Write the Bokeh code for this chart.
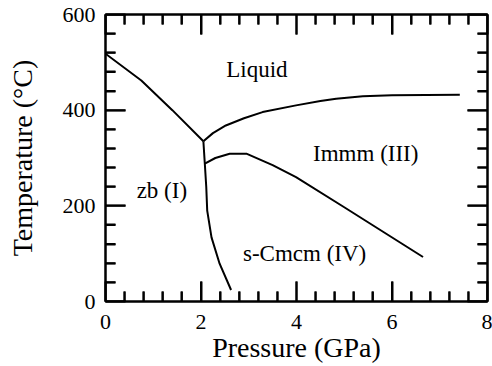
from bokeh.plotting import figure
from bokeh.models import FixedTicker, LinearAxis, Range1d
from bokeh.core.properties import value
from bokeh.embed import file_html
from bokeh.resources import INLINE

# Phase boundaries (Pressure GPa, Temperature C)
melt_p = [0.0, 0.75, 1.4, 2.05]
melt_t = [518, 462, 400, 335]

liq_p = [2.05, 2.25, 2.52, 2.9, 3.29, 3.99, 4.5, 4.83, 5.39, 6.0, 7.42]
liq_t = [335, 352, 368, 383, 396, 410, 419, 424, 429, 431, 432]

cmcm_p = [2.08, 2.3, 2.6, 2.95, 3.5, 3.99, 5.0, 6.65]
cmcm_t = [288, 300, 309, 309, 285, 260, 197, 93]

zb_p = [2.05, 2.08, 2.11, 2.13, 2.22, 2.39, 2.63]
zb_t = [335, 288, 240, 190, 134, 79, 24]

# Region labels
label_text = ["Liquid", "Immm (III)", "zb (I)", "s-Cmcm (IV)"]
label_p = [3.17, 5.45, 1.18, 4.17]
label_t = [486, 309, 232, 100]

x_major = [0, 2, 4, 6, 8]
x_minor = [round(i * 0.4, 2) for i in range(21) if i % 5 != 0]
y_major = [0, 200, 400, 600]
y_minor = [i * 40 for i in range(16) if i % 5 != 0]

X_MIN, X_MAX = 0, 8
Y_MIN, Y_MAX = 0, 600

FONT = "Liberation Serif"

W, H = 492, 366
BL, BR, BT, BB = 105, 5, 14, 65
FRAME_W = W - BL - BR
FRAME_H = H - BT - BB

p = figure(width=W, height=H, output_backend="svg", toolbar_location=None,
           x_range=Range1d(X_MIN, X_MAX), y_range=Range1d(Y_MIN, Y_MAX),
           min_border_left=BL, min_border_right=BR, min_border_top=BT, min_border_bottom=BB)
p.xgrid.visible = False
p.ygrid.visible = False
p.outline_line_color = "black"
p.outline_line_width = 2
p.background_fill_color = "white"
p.border_fill_color = "white"

xt = FixedTicker(ticks=x_major, minor_ticks=x_minor)
yt = FixedTicker(ticks=y_major, minor_ticks=y_minor)

def style(ax, ticker, show_labels):
    ax.ticker = ticker
    ax.axis_line_color = "black"
    ax.axis_line_width = 2
    ax.major_tick_line_color = "black"
    ax.minor_tick_line_color = "black"
    ax.major_tick_line_width = 2
    ax.minor_tick_line_width = 2
    ax.major_tick_in = 20
    ax.major_tick_out = 0
    ax.minor_tick_in = 10
    ax.minor_tick_out = 0
    ax.major_label_text_font = FONT
    ax.major_label_text_color = "black"
    if show_labels:
        ax.major_label_text_font_size = "22px"
    else:
        ax.major_label_overrides = {t: "" for t in ticker.ticks}
        ax.major_label_text_font_size = "1px"
        ax.major_label_standoff = 0

style(p.xaxis[0], xt, True)
style(p.yaxis[0], yt, True)
p.xaxis[0].axis_label = "Pressure (GPa)"
p.yaxis[0].axis_label = "Temperature (°C)"
for ax in (p.xaxis[0], p.yaxis[0]):
    ax.axis_label_text_font = FONT
    ax.axis_label_text_font_size = "28px"
    ax.axis_label_text_font_style = "normal"
    ax.axis_label_text_color = "black"
p.xaxis[0].major_label_standoff = 13
p.xaxis[0].axis_label_standoff = 0
p.yaxis[0].major_label_standoff = 10
p.yaxis[0].axis_label_standoff = 22

top = LinearAxis()
right = LinearAxis()
style(top, xt, False)
style(right, yt, False)
p.add_layout(top, "above")
p.add_layout(right, "right")

# inward tick marks on all four sides, drawn as segments from the tick lists
px_x = (X_MAX - X_MIN) / FRAME_W   # data units per pixel
px_y = (Y_MAX - Y_MIN) / FRAME_H
for ticks, length in [(x_major, 20), (x_minor, 10)]:
    n = len(ticks)
    p.segment(x0=ticks, y0=[Y_MIN] * n, x1=ticks, y1=[Y_MIN + length * px_y] * n,
              line_color="black", line_width=2)
    p.segment(x0=ticks, y0=[Y_MAX] * n, x1=ticks, y1=[Y_MAX - length * px_y] * n,
              line_color="black", line_width=2)
for ticks, length in [(y_major, 20), (y_minor, 10)]:
    n = len(ticks)
    p.segment(x0=[X_MIN] * n, y0=ticks, x1=[X_MIN + length * px_x] * n, y1=ticks,
              line_color="black", line_width=2)
    p.segment(x0=[X_MAX] * n, y0=ticks, x1=[X_MAX - length * px_x] * n, y1=ticks,
              line_color="black", line_width=2)

for xs, ys in [(melt_p, melt_t), (liq_p, liq_t), (cmcm_p, cmcm_t), (zb_p, zb_t)]:
    p.line(xs, ys, line_color="black", line_width=2)

p.text(x=label_p, y=label_t, text=label_text, text_font=value(FONT),
       text_font_size="23px", text_align="center", text_baseline="middle",
       text_color="black")

open("out.html", "w").write(file_html(p, INLINE))
